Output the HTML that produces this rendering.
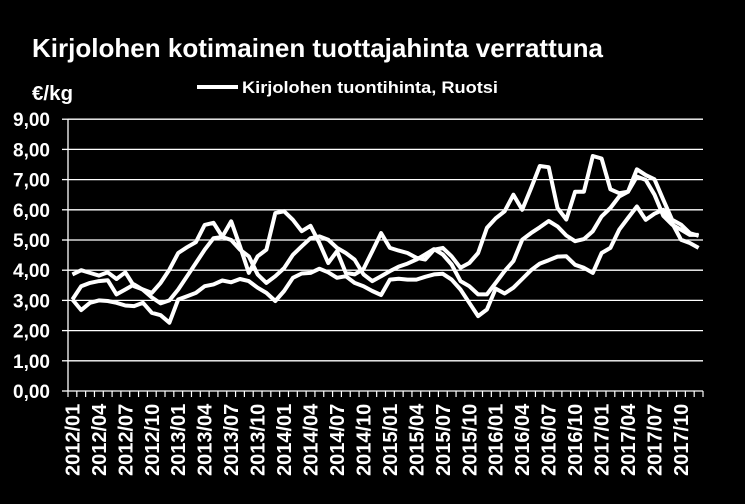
<!DOCTYPE html>
<html><head><meta charset="utf-8"><style>
html,body{margin:0;padding:0;background:#000;}
svg{display:block;font-family:"Liberation Sans",sans-serif;font-weight:bold;}
</style></head><body>
<svg id="chart" width="745" height="504" viewBox="0 0 745 504">
<rect width="745" height="504" fill="#000"/>
<text x="32" y="57" fill="#fff" font-size="26" textLength="571" lengthAdjust="spacingAndGlyphs">Kirjolohen kotimainen tuottajahinta verrattuna</text>
<text x="32" y="100" fill="#fff" font-size="20" textLength="41" lengthAdjust="spacingAndGlyphs">€/kg</text>
<g>
<line x1="197" y1="87" x2="238" y2="87" stroke="#fff" stroke-width="4"/>
<text x="242" y="93" fill="#fff" font-size="17" textLength="256" lengthAdjust="spacingAndGlyphs">Kirjolohen tuontihinta, Ruotsi</text>
</g>
<g id="grid"></g><g id="axes"></g><g id="series"></g>
</svg>
<script>
const categories = [];
for (let y = 2012; y <= 2017; y++) for (let m = 1; m <= 12; m++) categories.push(y + '/' + (m < 10 ? '0' : '') + m);
const yTicks = [0,1,2,3,4,5,6,7,8,9];
const seriesA = [3.86,4.0,3.91,3.82,3.93,3.71,3.93,3.47,3.36,3.25,3.58,4.02,4.57,4.76,4.93,5.5,5.57,5.11,5.62,4.79,3.91,4.46,4.68,5.89,5.95,5.67,5.29,5.47,4.9,4.24,4.63,3.91,3.86,4.04,4.63,5.23,4.74,4.65,4.57,4.41,4.35,4.68,4.74,4.46,4.08,4.24,4.57,5.4,5.72,5.95,6.5,6.0,6.71,7.45,7.41,6.06,5.68,6.6,6.6,7.78,7.7,6.68,6.55,6.6,7.34,7.15,7.01,6.33,5.67,5.51,5.23,5.14];
const seriesB = [3.03,3.47,3.58,3.64,3.67,3.2,3.36,3.53,3.35,3.1,2.9,3.0,3.36,3.8,4.24,4.68,5.06,5.1,5.0,4.68,4.46,3.86,3.58,3.8,4.07,4.51,4.79,5.06,5.12,5.01,4.74,4.57,4.35,3.86,3.64,3.8,3.97,4.12,4.22,4.35,4.52,4.7,4.52,4.19,3.64,3.47,3.2,3.2,3.58,3.97,4.3,5.01,5.23,5.42,5.63,5.45,5.15,4.96,5.03,5.29,5.78,6.06,6.44,6.6,7.1,6.99,6.5,5.8,5.51,5.34,5.17,5.17];
const seriesL = [3.03,2.68,2.92,3.0,2.98,2.92,2.83,2.81,2.92,2.59,2.51,2.26,3.03,3.14,3.25,3.47,3.53,3.66,3.6,3.71,3.64,3.42,3.25,2.98,3.31,3.75,3.89,3.91,4.05,3.93,3.75,3.8,3.58,3.47,3.31,3.18,3.69,3.72,3.69,3.69,3.78,3.86,3.88,3.69,3.36,2.92,2.48,2.7,3.39,3.23,3.42,3.71,4.0,4.22,4.33,4.45,4.46,4.18,4.08,3.91,4.57,4.74,5.34,5.73,6.11,5.67,5.87,6.0,5.56,5.01,4.9,4.74];
const X0 = 68, X1 = 703, Y0 = 391, YPX = 30.2;
const n = categories.length;
const step = (X1 - X0) / n;
function xPos(i){ return X0 + step * (i + 0.5); }
function yPos(v){ return Y0 - v * YPX; }
const NS = 'http://www.w3.org/2000/svg';
function mk(tag, attrs, parent){ const e = document.createElementNS(NS, tag); for (const k in attrs) e.setAttribute(k, attrs[k]); parent.appendChild(e); return e; }
const grid = document.getElementById('grid'), axes = document.getElementById('axes'), ser = document.getElementById('series');
yTicks.forEach(t => {
  const y = yPos(t);
  if (t > 0) {
    const g = mk('line', {x1: X0, x2: X1, y1: y, y2: y, stroke: '#fff', 'stroke-width': 1.3}, grid);
    
    
  }
  const tk = mk('line', {x1: X0 - 6, x2: X0, y1: y, y2: y, stroke: '#fff', 'stroke-width': 1.3}, axes);
  
  
  const lb = mk('text', {x: 50, y: y + 7, fill: '#fff', 'font-size': 19, 'text-anchor': 'end'}, axes);
  lb.textContent = t.toFixed(2).replace('.', ',');
  
  
});
const ya = mk('line', {x1: X0, x2: X0, y1: yPos(9), y2: Y0, stroke: '#fff', 'stroke-width': 1.3}, axes);


const xa = mk('line', {x1: X0, x2: X1, y1: Y0, y2: Y0, stroke: '#fff', 'stroke-width': 1.3}, axes);


for (let i = 0; i <= n; i++) {
  const x = X0 + step * i;
  const tk = mk('line', {x1: x, x2: x, y1: Y0, y2: Y0 + 6, stroke: '#fff', 'stroke-width': 1.2}, axes);
  
  
}
categories.forEach((c, i) => {
  if (i % 3 !== 0) return;
  const x = xPos(i) + 7, y = 476;
  const lb = mk('text', {x: x, y: y, fill: '#fff', 'font-size': 20, transform: 'rotate(-90 ' + x + ' ' + y + ')'}, axes);
  lb.textContent = c;
  
  
});
[[seriesA, 'series-a'], [seriesB, 'series-b'], [seriesL, 'series-c']].forEach(([arr, name]) => {
  const d = arr.map((v, i) => (i ? 'L' : 'M') + xPos(i).toFixed(1) + ' ' + yPos(v).toFixed(1)).join(' ');
  const p = mk('path', {d: d, fill: 'none', stroke: '#fff', 'stroke-width': 4, 'stroke-linejoin': 'round'}, ser);
  
  
});
</script>
</body></html>
